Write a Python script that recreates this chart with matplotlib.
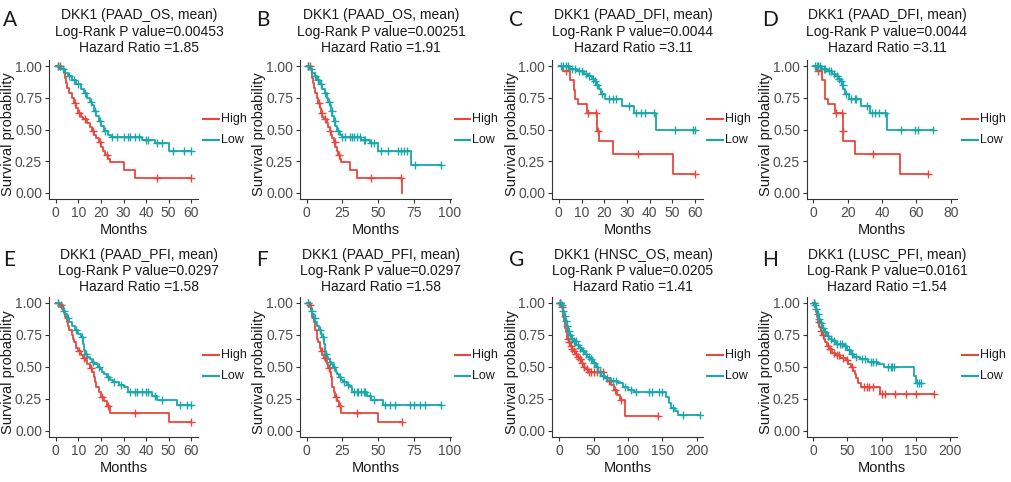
import matplotlib
matplotlib.use("Agg")
import matplotlib.pyplot as plt
from matplotlib.lines import Line2D
import numpy as np

plt.rcParams['font.family'] = ['Liberation Sans', 'DejaVu Sans']

RED = '#E8473E'
TEAL = '#1BA6AA'

# ---- survival data: (event time, survival after event) and censor times ----
# PAAD overall survival (panels A, B)
os_high_t = [2.5, 3.5, 4, 4.5, 5, 6, 7, 8, 9, 10, 11, 12, 14, 15, 16, 17, 18, 19, 20, 21, 22, 23, 24, 30, 35, 67]
os_high_s = [0.98, 0.95, 0.91, 0.87, 0.83, 0.79, 0.75, 0.71, 0.67, 0.63, 0.60, 0.58, 0.55, 0.52, 0.49, 0.46,
             0.43, 0.40, 0.36, 0.33, 0.30, 0.27, 0.24, 0.18, 0.12, 0.0]
os_high_c = [1, 2, 8.5, 10.5, 13, 16.5, 19.5, 22.5, 45, 66]
os_high_end = 67
os_low_t = [2, 4, 5.5, 7, 9, 11, 12.5, 14, 15, 16, 17, 18, 19, 20, 21.5, 23, 24.5, 38, 44, 50, 73]
os_low_s = [0.98, 0.95, 0.92, 0.89, 0.86, 0.82, 0.79, 0.75, 0.72, 0.69, 0.65, 0.61, 0.57, 0.53, 0.49, 0.46,
            0.44, 0.42, 0.39, 0.33, 0.22]
os_low_c = [1, 3, 6, 8, 10, 13, 15.5, 17.5, 19.5, 22, 25, 27, 30, 32, 33, 35, 37, 40, 41, 45, 47, 52, 57,
            64, 66, 68, 70, 76, 94]
os_low_end = 94

# PAAD disease-free interval (panels C, D)
dfi_high_t = [2, 5, 6.5, 7, 8.5, 12.5, 17, 17.5, 24, 50.5]
dfi_high_s = [0.963, 0.889, 0.815, 0.741, 0.704, 0.63, 0.49, 0.41, 0.305, 0.15]
dfi_high_c = [3, 13, 16.5, 17.2, 35, 67]
dfi_high_end = 67
dfi_low_t = [5, 8, 11, 13, 14.5, 15.5, 16.5, 17.5, 18.5, 20.5, 28, 33, 43]
dfi_low_s = [0.98, 0.96, 0.94, 0.92, 0.90, 0.88, 0.85, 0.82, 0.78, 0.745, 0.685, 0.63, 0.50]
dfi_low_c = [1, 2, 3, 4, 6, 7, 9, 10, 12, 13.5, 15, 16, 17, 19, 22, 24, 25, 31, 34, 36, 38, 42, 51, 59, 61, 69.5]
dfi_low_end = 69.5

# PAAD progression-free interval (panels E, F)
pfi_high_t = [2, 3, 3.5, 4, 5, 5.5, 6, 7, 7.5, 8, 9, 10, 11, 12, 13, 14, 15, 16, 17, 17.5, 18, 19, 20,
              21.5, 22.5, 24, 50]
pfi_high_s = [0.98, 0.95, 0.92, 0.89, 0.85, 0.82, 0.79, 0.75, 0.72, 0.69, 0.65, 0.62, 0.59, 0.57, 0.55,
              0.52, 0.49, 0.46, 0.42, 0.38, 0.34, 0.30, 0.26, 0.23, 0.19, 0.14, 0.07]
pfi_high_c = [1, 2.5, 10.5, 12.5, 15.5, 20.5, 23, 35, 67]
pfi_high_end = 67
pfi_low_t = [2, 3, 4, 5, 6, 7, 8.5, 10, 11, 12, 12.5, 13, 14, 15, 16, 17, 18.5, 19.5, 20.5, 21.5, 22.5,
             24, 25.5, 28, 30, 32, 42.5, 45, 53.5]
pfi_low_s = [0.97, 0.94, 0.91, 0.88, 0.85, 0.82, 0.79, 0.76, 0.73, 0.68, 0.63, 0.60, 0.58, 0.56, 0.54,
             0.52, 0.50, 0.48, 0.46, 0.44, 0.42, 0.40, 0.38, 0.36, 0.34, 0.30, 0.27, 0.24, 0.20]
pfi_low_c = [1, 3.5, 5.5, 9, 11.5, 13.5, 16.5, 19, 23, 26, 29, 33, 35, 36, 38, 40, 41, 44, 47, 55, 58,
             62, 72, 75, 79, 83, 94]
pfi_low_end = 94

# HNSC overall survival (panel G)
hnsc_high_t = [3, 5, 6, 7, 8, 9, 10, 11, 12, 14, 16, 18, 20, 23, 26, 29, 32, 35, 38, 42, 65, 70, 75, 79,
               84, 88, 96]
hnsc_high_s = [0.97, 0.93, 0.89, 0.86, 0.83, 0.80, 0.77, 0.74, 0.72, 0.69, 0.66, 0.64, 0.62, 0.60, 0.58,
               0.56, 0.53, 0.50, 0.48, 0.46, 0.42, 0.39, 0.36, 0.32, 0.28, 0.24, 0.115]
hnsc_high_c = [1, 2, 4, 13, 15, 17, 19, 21, 24, 27, 30, 31, 33, 36, 40, 44, 47, 50, 55, 60, 63, 72, 81,
               90, 143]
hnsc_high_end = 143
hnsc_low_t = [3, 5, 7, 9, 11, 13, 15, 18, 21, 25, 29, 33, 37, 41, 45, 49, 53, 57, 61, 66, 75, 85, 92,
              100, 108, 155, 159, 163, 168, 172]
hnsc_low_s = [0.98, 0.94, 0.90, 0.86, 0.82, 0.78, 0.75, 0.72, 0.70, 0.67, 0.65, 0.62, 0.60, 0.58, 0.56,
              0.53, 0.50, 0.46, 0.43, 0.41, 0.39, 0.37, 0.34, 0.32, 0.30, 0.26, 0.22, 0.18, 0.15, 0.12]
hnsc_low_c = [1, 2, 4, 6, 8, 10, 12, 14, 16, 19, 22, 24, 27, 30, 35, 39, 43, 47, 51, 55, 59, 63, 70, 78,
              83, 95, 104, 112, 130, 135, 145, 150, 165, 180, 205]
hnsc_low_end = 205

# LUSC progression-free interval (panel H)
lusc_high_t = [3, 5, 6, 7, 9, 11, 13, 16, 18, 20, 23, 27, 32, 40, 48, 51, 55, 58, 61, 63, 66, 70, 97]
lusc_high_s = [0.97, 0.93, 0.89, 0.85, 0.81, 0.78, 0.75, 0.72, 0.69, 0.66, 0.64, 0.61, 0.59, 0.57, 0.55,
               0.52, 0.50, 0.47, 0.44, 0.41, 0.37, 0.34, 0.29]
lusc_high_c = [1, 8, 12, 15, 22, 25, 30, 35, 38, 43, 50, 57, 75, 78, 82, 88, 100, 105, 120, 135, 150, 177]
lusc_high_end = 177
lusc_low_t = [2, 4, 6, 8, 10, 13, 16, 20, 24, 28, 33, 45, 50, 55, 60, 68, 80, 95, 103, 148, 150]
lusc_low_s = [0.98, 0.95, 0.91, 0.87, 0.84, 0.80, 0.77, 0.74, 0.72, 0.70, 0.68, 0.66, 0.63, 0.60, 0.58,
              0.56, 0.54, 0.52, 0.50, 0.43, 0.37]
lusc_low_c = [1, 3, 5, 7, 9, 12, 15, 18, 22, 26, 30, 35, 40, 42, 47, 53, 57, 63, 72, 76, 85, 88, 92, 110,
              113, 115, 118, 152, 155, 157]
lusc_low_end = 157

letters = ['A', 'B', 'C', 'D', 'E', 'F', 'G', 'H']
titles = [
    ['DKK1 (PAAD_OS, mean)', 'Log-Rank P value=0.00453', 'Hazard Ratio =1.85'],
    ['DKK1 (PAAD_OS, mean)', 'Log-Rank P value=0.00251', 'Hazard Ratio =1.91'],
    ['DKK1 (PAAD_DFI, mean)', 'Log-Rank P value=0.0044', 'Hazard Ratio =3.11'],
    ['DKK1 (PAAD_DFI, mean)', 'Log-Rank P value=0.0044', 'Hazard Ratio =3.11'],
    ['DKK1 (PAAD_PFI, mean)', 'Log-Rank P value=0.0297', 'Hazard Ratio =1.58'],
    ['DKK1 (PAAD_PFI, mean)', 'Log-Rank P value=0.0297', 'Hazard Ratio =1.58'],
    ['DKK1 (HNSC_OS, mean)', 'Log-Rank P value=0.0205', 'Hazard Ratio =1.41'],
    ['DKK1 (LUSC_PFI, mean)', 'Log-Rank P value=0.0161', 'Hazard Ratio =1.54'],
]
ticks_60 = [0, 10, 20, 30, 40, 50, 60]
ticks_100 = [0, 25, 50, 75, 100]
ticks_80 = [0, 20, 40, 60, 80]
ticks_200 = [0, 50, 100, 150, 200]

high = {
    'os': (os_high_t, os_high_s, os_high_c, os_high_end),
    'dfi': (dfi_high_t, dfi_high_s, dfi_high_c, dfi_high_end),
    'pfi': (pfi_high_t, pfi_high_s, pfi_high_c, pfi_high_end),
    'hnsc': (hnsc_high_t, hnsc_high_s, hnsc_high_c, hnsc_high_end),
    'lusc': (lusc_high_t, lusc_high_s, lusc_high_c, lusc_high_end),
}
low = {
    'os': (os_low_t, os_low_s, os_low_c, os_low_end),
    'dfi': (dfi_low_t, dfi_low_s, dfi_low_c, dfi_low_end),
    'pfi': (pfi_low_t, pfi_low_s, pfi_low_c, pfi_low_end),
    'hnsc': (hnsc_low_t, hnsc_low_s, hnsc_low_c, hnsc_low_end),
    'lusc': (lusc_low_t, lusc_low_s, lusc_low_c, lusc_low_end),
}
# (dataset, follow-up cut, x ticks, x limits)
panels = [
    ('os', 60, ticks_60, (-3, 63)),
    ('os', None, ticks_100, (-4.7, 101)),
    ('dfi', 60, ticks_60, (-3, 63.5)),
    ('dfi', None, ticks_80, (-3.7, 83.7)),
    ('pfi', 60, ticks_60, (-3, 63)),
    ('pfi', None, ticks_100, (-4.7, 101)),
    ('hnsc', None, ticks_200, (-10.3, 208.8)),
    ('lusc', None, ticks_200, (-8.8, 210)),
]

W, H = 1011, 482
cols = [(49, 198), (300, 451), (552, 703), (807, 957)]
rows = [(60, 199), (296.5, 437)]
title_x = [139, 381, 633, 887]
title_y = [[15, 32, 48.5], [255, 271, 287]]
ylab_x = [8, 259, 512, 766]
ylab_y = [134, 372]
xlab_y = [230, 468]
letter_x = [3, 256, 509, 762]
letter_y = [19.5, 260]
leg_x = [(203, 219), (455, 470), (707, 723), (962, 978)]
leg_y = [(119, 140), (355, 376)]


def km_draw(ax, curve, cut, color):
    t, s, c, end = curve
    t = np.array(t, float)
    s = np.array(s, float)
    c = np.array(c, float)
    if cut is not None and cut < end:
        keep = t <= cut
        t, s = t[keep], s[keep]
        c = np.append(c[c < cut], cut)
        end = cut
    xs = np.concatenate([[0], t, [end]])
    ys = np.concatenate([[1], s, [s[-1]]])
    ax.step(xs, ys, where='post', color=color, lw=1.3, zorder=3)
    lvl = np.concatenate([[1], s])
    cy = lvl[np.searchsorted(t, c, side='right')]
    ax.plot(c, cy, ls='none', marker='+', ms=5.5, mew=1.0, color=color, zorder=4)


fig = plt.figure(figsize=(W / 100, H / 100), dpi=100)

for i, (key, cut, xt, xl) in enumerate(panels):
    r, k = divmod(i, 4)
    l, rr = cols[k]
    top, bot = rows[r]
    ax = fig.add_axes([l / W, 1 - bot / H, (rr - l) / W, (bot - top) / H])
    km_draw(ax, high[key], cut, RED)
    km_draw(ax, low[key], cut, TEAL)
    ax.set_xlim(*xl)
    ax.set_ylim(-0.05, 1.05)
    ax.set_xticks(xt)
    ax.set_yticks([0, 0.25, 0.5, 0.75, 1.0])
    ax.set_yticklabels(['0.00', '0.25', '0.50', '0.75', '1.00'])
    for sp in ['top', 'right']:
        ax.spines[sp].set_visible(False)
    for sp in ['left', 'bottom']:
        ax.spines[sp].set_color('#333333')
        ax.spines[sp].set_linewidth(0.8)
    ax.tick_params(direction='out', length=3, width=0.8, color='#333333',
                   labelcolor='#4D4D4D', labelsize=10, pad=2)

    for j, line in enumerate(titles[i]):
        fig.text(title_x[k] / W, 1 - title_y[r][j] / H, line, ha='center', va='center',
                 fontsize=10, color='#1a1a1a')
    fig.text(letter_x[k] / W, 1 - letter_y[r] / H, letters[i], ha='left', va='center',
             fontsize=15, color='#1a1a1a', family=['Lato', 'DejaVu Sans'])
    fig.text(ylab_x[k] / W, 1 - ylab_y[r] / H, 'Survival probability', rotation=90,
             ha='center', va='center', fontsize=10.5, color='#1a1a1a')
    fig.text((l + rr) / 2 / W, 1 - xlab_y[r] / H, 'Months', ha='center', va='center',
             fontsize=10.5, color='#1a1a1a')

    x1, x2 = leg_x[k]
    for lab, col, yy in zip(['High', 'Low'], [RED, TEAL], leg_y[r]):
        fig.add_artist(Line2D([x1 / W, x2 / W], [1 - yy / H] * 2, color=col, lw=1.5))
        fig.text((x2 + 2) / W, 1 - yy / H, lab, ha='left', va='center', fontsize=9, color='#1a1a1a')

fig.savefig('out.png', dpi=100)
